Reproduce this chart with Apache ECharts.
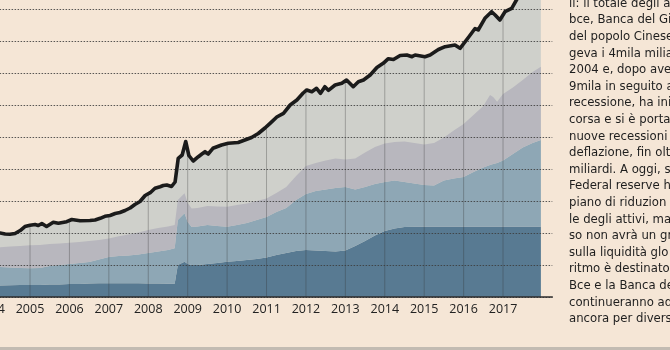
<!DOCTYPE html>
<html><head><meta charset="utf-8">
<script src="https://cdn.jsdelivr.net/npm/echarts@6/dist/echarts.min.js"></script>
<style>html,body{margin:0;padding:0;background:#f5e6d6;overflow:hidden}#c{width:670px;height:350px}</style>
</head><body><div id="c"></div>
<script>
// ---- data (miliardi di dollari) ----
const yearTicks = [2004,2005,2006,2007,2008,2009,2010,2011,2012,2013,2014,2015,2016,2017];

const totalDates = [2004.0,2004.24,2004.37,2004.49,2004.62,2004.75,2004.87,2005.0,2005.13,2005.21,2005.3,2005.42,2005.59,2005.72,2005.93,2006.06,2006.27,2006.52,2006.65,2006.78,2006.9,2007.03,2007.16,2007.28,2007.41,2007.54,2007.66,2007.79,2007.92,2008.05,2008.17,2008.3,2008.38,2008.47,2008.59,2008.68,2008.76,2008.86,2008.95,2009.03,2009.14,2009.27,2009.36,2009.44,2009.52,2009.64,2009.86,2010.03,2010.28,2010.45,2010.62,2010.79,2010.96,2011.09,2011.26,2011.43,2011.6,2011.77,2011.93,2012.02,2012.15,2012.27,2012.37,2012.48,2012.57,2012.74,2012.91,2013.03,2013.2,2013.33,2013.46,2013.63,2013.8,2013.96,2014.09,2014.22,2014.39,2014.56,2014.69,2014.77,2015.02,2015.15,2015.36,2015.53,2015.78,2015.91,2016.12,2016.29,2016.37,2016.54,2016.71,2016.8,2016.92,2017.05,2017.22,2017.34,2017.5,2017.73,2017.96];
const totalValues = [4063,4000,3938,3919,3969,4156,4406,4481,4531,4469,4594,4406,4669,4606,4706,4844,4769,4781,4813,4919,5044,5094,5219,5281,5406,5563,5781,5969,6344,6519,6794,6894,6969,7000,6906,7188,8669,8875,9719,8844,8500,8769,8938,9081,8938,9294,9500,9606,9656,9813,9969,10219,10563,10856,11250,11481,12000,12313,12750,12938,12831,13044,12731,13144,12919,13250,13356,13563,13144,13456,13563,13875,14344,14606,14894,14844,15094,15125,15019,15125,15019,15125,15469,15644,15750,15544,16219,16781,16688,17419,17831,17625,17313,17831,18044,18563,19063,19438,19813];

const layerDates = [2004.0,2004.25,2004.5,2004.75,2005.0,2005.25,2005.5,2005.75,2006.0,2006.25,2006.5,2006.75,2007.0,2007.25,2007.5,2007.75,2008.0,2008.25,2008.5,2008.67,2008.75,2008.92,2009.0,2009.1,2009.25,2009.5,2009.75,2010.0,2010.25,2010.5,2010.75,2011.0,2011.25,2011.5,2011.75,2012.0,2012.25,2012.5,2012.75,2013.0,2013.25,2013.5,2013.75,2014.0,2014.25,2014.5,2014.75,2015.0,2015.25,2015.5,2015.75,2016.0,2016.25,2016.5,2016.67,2016.75,2016.85,2017.0,2017.25,2017.5,2017.75,2017.96];
const fed = [750,719,731,750,750,750,781,781,813,813,844,856,856,856,856,856,844,844,831,831,2000,2206,2063,2000,2000,2063,2125,2206,2250,2313,2375,2469,2625,2750,2875,2938,2906,2875,2844,2906,3188,3500,3844,4125,4281,4375,4394,4394,4394,4394,4394,4394,4394,4394,4394,4394,4394,4394,4394,4394,4394,4394];
const bce = [1125,1156,1113,1063,1044,1063,1156,1219,1250,1313,1344,1488,1644,1706,1738,1800,1906,2000,2106,2213,2813,3025,2625,2375,2406,2438,2313,2188,2250,2313,2438,2531,2688,2813,3188,3500,3719,3844,3969,3969,3531,3375,3219,3063,3000,2813,2700,2606,2575,2888,3013,3106,3419,3700,3856,3919,3981,4138,4544,4950,5231,5419];
const boj = [1219,1231,1313,1375,1438,1438,1375,1344,1331,1313,1313,1219,1156,1231,1313,1375,1438,1469,1469,1456,1250,1250,1188,1156,1156,1188,1219,1250,1250,1219,1188,1156,1188,1313,1500,1750,1750,1813,1844,1719,1938,2156,2313,2406,2406,2531,2531,2531,2656,2688,3000,3313,3563,3844,4375,4188,3831,4156,4156,4219,4438,4581];

const noteLines = [
  "li: il totale degli a",
  "bce, Banca del Gi",
  "del popolo Cinese",
  "geva i 4mila milia",
  "2004 e, dopo ave",
  "9mila in seguito a",
  "recessione, ha ini",
  "corsa e si è portat",
  "nuove recessioni",
  "deflazione, fin olt",
  "miliardi. A oggi, s",
  "Federal reserve h",
  "piano di riduzion",
  "le degli attivi, ma",
  "so non avrà un gra",
  "sulla liquidità glo",
  "ritmo è destinato",
  "Bce e la Banca de",
  "continueranno ad",
  "ancora per divers"
];

// ---- build ----
const X_MIN = 2004, X_MAX = 2018.25;
const YEAR_MS = 31557600000;
const ts = y => (y - 1970) * YEAR_MS;   // linear map so both x axes coincide
const zip = (xs, ys, f) => xs.map((x, i) => [f ? f(x) : x, ys[i]]);
const totalData = zip(totalDates, totalValues);
function totalAt(t) {
  for (let i = 1; i < totalDates.length; i++) {
    if (totalDates[i] >= t) {
      const a = totalDates[i-1], b = totalDates[i];
      const f = (t - a) / (b - a);
      return totalValues[i-1] + f * (totalValues[i] - totalValues[i-1]);
    }
  }
  return totalValues[totalValues.length - 1];
}

const chart = echarts.init(document.getElementById('c'), null, {renderer: 'canvas'});
const FONT = "'Open Sans', sans-serif";
const NOTEFONT = "'Liberation Sans Narrow', 'DejaVu Sans Condensed', sans-serif";

const graphics = noteLines.map((t, i) => ({
  type: 'text', left: 569, top: 5 + 16.6 * i - 8,
  style: {text: t, fill: '#1e1e1e', font: "13px " + NOTEFONT}
}));
graphics.push({type: 'rect', shape: {x: 0, y: 347, width: 670, height: 3}, style: {fill: '#c2bbb2'}});

const area = (name, data, color, z, stack, axis) => ({
  type: 'line', name, data, stack, xAxisIndex: axis, showSymbol: false, clip: false, z,
  lineStyle: {width: 0}, areaStyle: {color, opacity: 1}, silent: true
});

chart.setOption({
  backgroundColor: '#f5e6d6',
  animation: false,
  grid: {left: -9.4, top: 9, width: 561.7, height: 288, outerBoundsMode: 'none', containLabel: false},
  xAxis: [{
    type: 'value', min: X_MIN, max: X_MAX, interval: 1, z: 5,
    axisLine: {show: true, lineStyle: {color: '#2e2e2e', width: 1.5}},
    axisTick: {show: false},
    splitLine: {show: false},
    axisLabel: {
      margin: 6, color: '#222', fontSize: 12.5, fontFamily: FONT, hideOverlap: false,
      formatter: v => (Number.isInteger(v) && v <= 2017) ? String(v) : ''
    }
  }, {
    type: 'time', min: ts(X_MIN), max: ts(X_MAX), show: false, position: 'bottom',
    axisLabel: {show: false}, splitLine: {show: false}
  }],
  yAxis: {
    type: 'value', min: 0, max: 18000, interval: 2000, z: 5,
    axisLine: {show: false}, axisTick: {show: false}, axisLabel: {show: false},
    splitLine: {show: true, lineStyle: {color: '#3c3c3c', width: 1, type: [1.5, 1.5], opacity: 0.85}}
  },
  series: [
    area('Banca del popolo Cinese', totalData, '#cfd0cb', 1, undefined, 0),
    area('Federal reserve', zip(layerDates, fed, ts), '#587a92', 2, 'cb', 1),
    area('Bce', zip(layerDates, bce, ts), '#8ea7b5', 2, 'cb', 1),
    area('Banca del Giappone', zip(layerDates, boj, ts), '#b8b7be', 2, 'cb', 1),
    {type: 'custom', name: 'anni', xAxisIndex: 0, data: yearTicks.map(y => [y, 0]), z: 3, silent: true,
     renderItem: (params, api) => {
       const yr = api.value(0);
       const p0 = api.coord([yr, 0]);
       const p1 = api.coord([yr, totalAt(yr)]);
       return {type: 'line', shape: {x1: p0[0], y1: p0[1], x2: p1[0], y2: p1[1]},
               style: {stroke: 'rgba(50,50,50,0.32)', lineWidth: 1}};
     }},
    {type: 'line', name: 'Totale', xAxisIndex: 0, data: totalData, showSymbol: false, clip: false, z: 8, silent: true,
     lineStyle: {color: '#1b1b1b', width: 3.6, join: 'round'}}
  ],
  graphic: graphics
});
</script>
</body></html>
